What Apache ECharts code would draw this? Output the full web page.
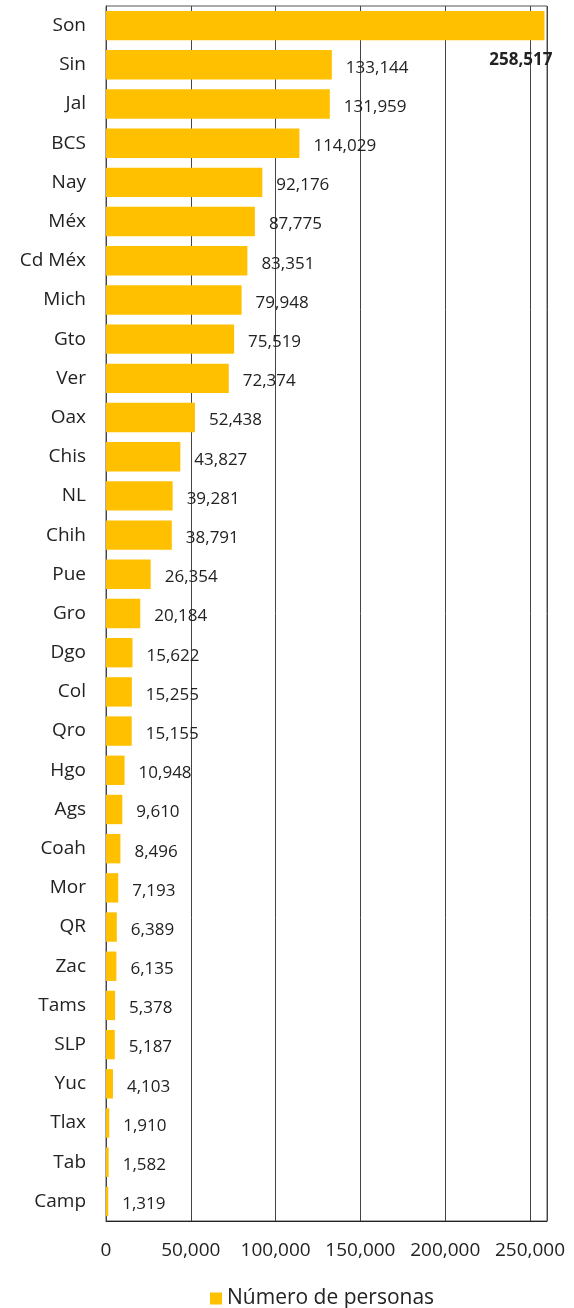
<!DOCTYPE html>
<html>
<head>
<meta charset="utf-8">
<script src="https://cdn.jsdelivr.net/npm/echarts@6/dist/echarts.min.js"></script>
<style>
    html, body { margin: 0; padding: 0; background: #fff; }
    #chart { width: 574px; height: 1308px; }
</style>
</head>
<body>
<div id="chart"></div>
<script>
    // estados, de mayor a menor
    const estados = ['Son', 'Sin', 'Jal', 'BCS', 'Nay', 'Méx', 'Cd Méx', 'Mich', 'Gto', 'Ver',
        'Oax', 'Chis', 'NL', 'Chih', 'Pue', 'Gro', 'Dgo', 'Col', 'Qro', 'Hgo',
        'Ags', 'Coah', 'Mor', 'QR', 'Zac', 'Tams', 'SLP', 'Yuc', 'Tlax', 'Tab', 'Camp'];
    const personas = [258517, 133144, 131959, 114029, 92176, 87775, 83351, 79948, 75519, 72374,
        52438, 43827, 39281, 38791, 26354, 20184, 15622, 15255, 15155, 10948,
        9610, 8496, 7193, 6389, 6135, 5378, 5187, 4103, 1910, 1582, 1319];
    const serieNombre = 'Número de personas';

    const chart = echarts.init(document.getElementById('chart'));
    const fmt = v => v.toLocaleString('en-US');

    const datos = personas.map((v, i) => {
        if (i === 0) {
            return {
                value: v,
                label: {
                    position: ['100%', '100%'],
                    align: 'right',
                    verticalAlign: 'middle',
                    offset: [8, 20],
                    fontWeight: 'bold'
                }
            };
        }
        return v;
    });

    chart.setOption({
        animation: false,
        grid: { left: 106, right: 27, top: 6, bottom: 87, containLabel: false },
        legend: {
            bottom: -6,
            left: 205,
            data: [serieNombre],
            icon: 'rect',
            itemWidth: 12,
            itemHeight: 12,
            textStyle: { fontFamily: 'Open Sans', fontSize: 21, color: '#222' }
        },
        xAxis: {
            type: 'value',
            min: 0,
            max: 260000,
            interval: 50000,
            axisLine: { show: true, lineStyle: { color: '#222' } },
            axisTick: { show: false },
            splitLine: { show: true, lineStyle: { color: '#444', width: 1 } },
            axisLabel: {
                margin: 20,
                fontFamily: 'Open Sans',
                fontSize: 19,
                color: '#222',
                formatter: v => (v > 250000 ? '' : fmt(v))
            }
        },
        yAxis: {
            type: 'category',
            data: estados,
            inverse: true,
            axisLine: { show: true, lineStyle: { color: '#444' } },
            axisTick: { show: false },
            axisLabel: {
                margin: 20,
                fontFamily: 'Open Sans',
                fontSize: 19,
                color: '#222'
            }
        },
        series: [{
            name: serieNombre,
            type: 'bar',
            data: datos,
            barCategoryGap: '25%',
            itemStyle: { color: '#FFC000' },
            label: {
                show: true,
                position: 'right',
                distance: 14,
                offset: [0, 3],
                fontFamily: 'Open Sans',
                fontSize: 17,
                color: '#222',
                formatter: p => fmt(p.value)
            }
        }],
        graphic: [{
            type: 'rect',
            shape: { x: 106, y: 6, width: 441, height: 1215 },
            style: { fill: 'none', stroke: '#555', lineWidth: 1 },
            silent: true
        }]
    });
</script>
</body>
</html>
